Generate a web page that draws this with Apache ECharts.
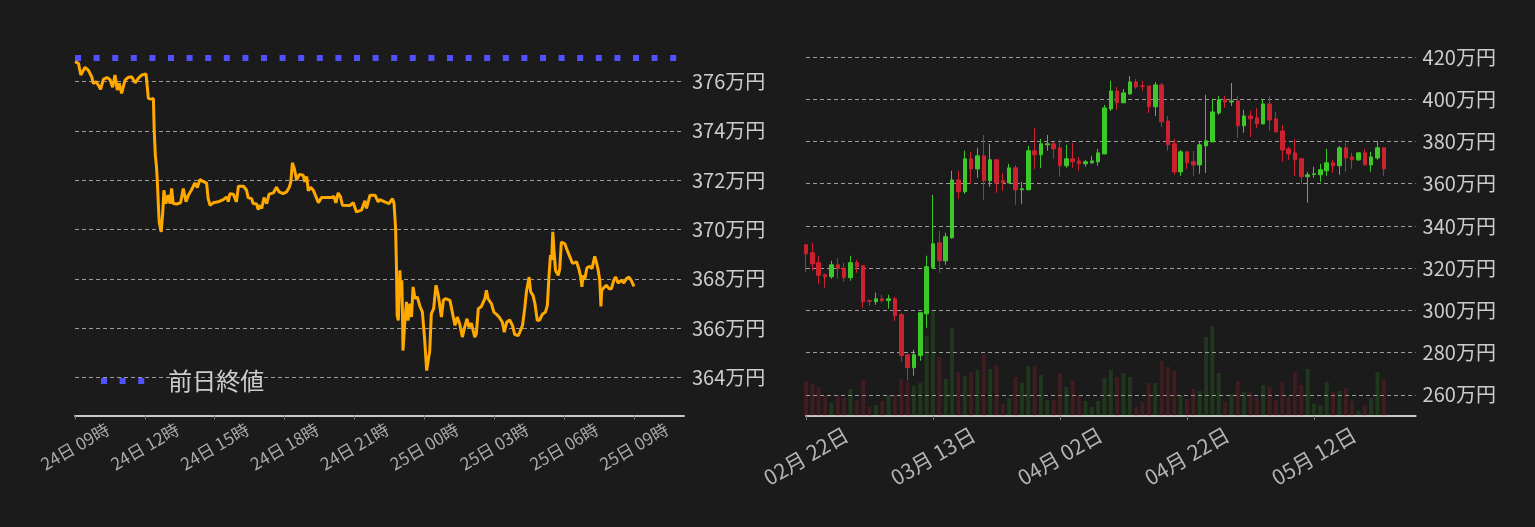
<!DOCTYPE html>
<html><head><meta charset="utf-8">
<script src="https://cdn.jsdelivr.net/npm/echarts@6/dist/echarts.min.js"></script>
<style>html,body{margin:0;padding:0;background:#1b1b1b;}#c{width:1535px;height:527px;}</style>
</head><body><div id="c"></div>
<script>
const FONT = '"Noto Sans CJK JP", "Noto Sans", sans-serif';

// ---- Left: intraday (minutes after 24日 09:00) ----
const prevClose = 376.95;
const lineMinutes = [0,9,15,20,26,34,43,47,54,60,66,73,82,90,97,103,109,114,120,129,137,146,155,163,172,183,186,189,195,202,204,207,210,212,215,217,222,226,229,234,240,245,249,253,262,272,279,286,292,300,309,315,322,331,339,343,348,356,369,382,391,395,399,408,412,416,421,434,442,446,455,459,468,472,476,481,487,494,500,511,519,526,536,545,552,556,560,565,571,578,588,592,597,601,607,614,621,627,635,648,661,667,672,678,684,689,708,717,725,738,747,751,760,773,781,785,798,809,818,822,826,828,830,833,837,840,842,844,845,850,854,858,863,867,871,876,882,888,895,901,906,910,914,918,924,930,936,940,944,949,955,966,973,979,985,991,998,1004,1010,1015,1021,1030,1034,1039,1047,1056,1060,1064,1073,1079,1086,1094,1101,1106,1112,1120,1127,1133,1142,1146,1153,1159,1163,1170,1174,1180,1185,1191,1197,1204,1212,1217,1221,1225,1228,1231,1234,1238,1245,1249,1253,1262,1268,1275,1282,1292,1298,1303,1306,1309,1313,1319,1326,1332,1339,1343,1348,1352,1355,1357,1362,1369,1376,1382,1388,1393,1399,1408,1414,1421,1427,1433,1440];
const lineValues = [376.80,376.73,376.26,376.24,376.57,376.46,376.19,375.92,375.99,375.85,375.68,376.08,376.16,376.08,375.76,376.26,375.65,375.92,375.51,376.05,376.16,376.19,375.94,376.12,376.26,376.30,376.26,375.31,375.28,375.31,374.02,373.01,372.53,372.00,370.91,370.30,369.90,370.65,371.59,371.05,371.39,371.05,371.66,371.05,371.03,371.08,371.66,371.12,371.39,371.60,371.89,371.70,372.02,371.93,371.89,371.25,370.98,371.08,371.12,371.21,371.32,371.12,371.45,371.43,371.48,371.12,371.75,371.75,371.59,371.29,371.25,371.05,371.03,370.80,370.98,370.85,371.29,371.05,371.43,371.48,371.71,371.52,371.45,371.52,371.71,371.93,372.70,372.47,372.00,372.23,372.20,371.93,372.14,371.57,371.71,371.59,371.32,371.08,371.29,371.29,371.29,371.34,371.08,371.48,371.32,370.98,370.97,371.08,370.71,370.78,371.16,370.85,371.39,371.39,371.12,371.21,371.12,371.05,371.25,371.05,370.03,368.61,366.52,366.31,368.34,367.26,367.94,366.31,365.09,366.31,367.06,366.31,366.99,366.45,367.67,367.20,367.26,366.92,366.65,365.50,364.28,364.21,365.09,366.58,366.79,367.74,367.33,367.40,366.45,367.13,367.20,367.13,366.58,366.11,366.45,366.18,365.64,366.04,366.38,366.04,366.20,365.64,365.77,366.79,366.88,367.20,367.53,367.20,366.99,366.65,366.56,366.42,366.24,365.84,366.24,366.33,366.11,365.74,365.70,365.84,366.11,366.85,367.47,368.07,367.47,367.33,366.99,366.31,366.33,366.56,366.65,366.92,368.07,368.96,368.76,369.90,369.16,368.34,368.14,368.41,369.49,369.42,369.16,368.89,368.62,368.69,368.41,368.07,367.67,368.14,367.96,368.45,368.51,368.41,368.91,368.69,368.34,367.94,366.88,367.53,367.63,367.74,367.60,367.60,367.94,368.07,367.83,367.94,367.83,368.01,368.07,367.94,367.69];
const intradayTickMinutes = [0,180,360,540,720,900,1080,1260,1440];
const intradayTickLabels = ['24日 09時','24日 12時','24日 15時','24日 18時','24日 21時','25日 00時','25日 03時','25日 06時','25日 09時'];
const intradayYTicks = [364,366,368,370,372,374,376];
const legendName = '前日終値';

// ---- Right: daily candles ----
const dailyCategories = ['02/22','02/23','02/24','02/25','02/26','02/27','02/28','02/29',
'03/01','03/02','03/03','03/04','03/05','03/06','03/07','03/08','03/09','03/10','03/11','03/12','03/13','03/14','03/15','03/16','03/17','03/18','03/19','03/20','03/21','03/22','03/23','03/24','03/25','03/26','03/27','03/28','03/29','03/30','03/31',
'04/01','04/02','04/03','04/04','04/05','04/06','04/07','04/08','04/09','04/10','04/11','04/12','04/13','04/14','04/15','04/16','04/17','04/18','04/19','04/20','04/21','04/22','04/23','04/24','04/25','04/26','04/27','04/28','04/29','04/30',
'05/01','05/02','05/03','05/04','05/05','05/06','05/07','05/08','05/09','05/10','05/11','05/12','05/13','05/14','05/15','05/16','05/17','05/18','05/19','05/20','05/21','05/22','05/23','05/24','05/25','05/26','05/27','05/28'];
const dailyOpen = [331.1,327.3,322.6,316.9,315.9,321.6,320.0,315.5,322.6,321.2,304.7,304.1,305.5,304.6,305.5,298.0,279.0,272.9,278.6,298.4,320.2,332.0,323.5,334.4,361.8,356.2,371.8,367.0,373.2,361.4,371.3,361.4,360.4,367.5,357.1,357.1,375.6,373.7,378.4,378.9,377.0,368.5,371.8,370.8,369.4,369.9,370.4,374.1,395.4,403.9,398.3,402.5,408.2,406.3,406.3,396.4,406.8,389.7,378.9,365.6,375.1,370.4,368.9,377.9,379.8,393.5,399.7,398.7,399.2,387.4,392.1,391.2,388.3,397.8,390.7,385.0,376.5,374.6,371.8,363.3,364.4,364.2,366.1,369.9,368.5,377.0,372.7,371.3,374.6,368.9,372.2,377.0];
const dailyClose = [326.8,322.1,316.6,315.9,321.6,319.9,315.5,322.6,320.7,304.1,304.3,305.5,304.6,305.5,297.5,278.6,272.9,279.0,298.9,320.7,331.6,323.5,334.9,361.8,356.2,371.8,367.0,373.2,361.4,371.3,360.4,360.4,367.5,357.1,357.6,375.6,373.7,378.9,378.9,376.5,368.5,371.8,370.4,369.4,370.4,370.8,374.6,395.9,403.9,398.3,403.0,408.2,405.8,406.0,396.4,406.8,389.3,378.4,365.6,375.1,369.9,368.9,378.4,380.3,394.0,399.7,398.7,399.2,387.4,392.1,390.7,388.3,397.8,390.2,384.5,376.0,374.1,371.3,363.3,364.2,364.7,366.6,369.9,368.5,377.0,372.2,371.3,374.6,368.9,372.7,377.0,367.0];
const dailyLow = [318.3,318.9,312.6,310.7,315.0,315.0,313.6,314.1,317.8,301.3,302.2,302.7,303.6,300.8,295.1,275.7,266.7,269.1,276.2,291.8,319.7,317.8,321.6,333.9,352.8,355.2,359.9,362.8,352.4,358.5,355.7,356.6,360.4,350.0,350.5,357.1,367.0,367.5,375.6,371.8,363.3,367.5,367.5,366.1,368.0,369.4,368.5,374.1,394.5,395.0,398.3,402.1,404.9,403.9,393.5,392.1,386.9,375.6,364.2,363.7,367.0,363.7,364.7,365.1,379.8,392.6,395.9,396.8,381.7,384.1,382.2,386.4,388.3,385.0,384.5,370.4,371.3,363.7,359.9,351.0,362.8,360.9,363.7,365.1,364.2,365.6,367.0,370.8,368.9,365.6,371.3,363.7];
const dailyHigh = [331.1,332.0,325.9,317.4,323.5,324.9,322.6,325.9,324.0,321.2,305.1,308.4,307.4,307.4,306.5,298.9,279.0,281.4,298.9,325.9,354.7,337.7,336.8,366.1,366.1,375.6,375.1,377.0,383.1,378.9,371.8,365.1,369.4,368.9,360.9,377.9,386.4,381.2,383.1,379.8,380.8,378.4,379.3,372.7,371.3,373.2,376.5,397.3,408.7,405.8,404.9,411.0,409.6,408.7,406.3,408.2,407.7,392.1,381.2,376.0,375.1,375.6,379.8,402.1,400.2,401.6,401.6,407.7,401.6,395.0,394.5,395.9,399.7,401.6,394.0,387.9,377.4,381.2,371.8,365.6,368.0,369.4,376.5,371.3,377.9,379.3,374.6,374.6,376.5,375.1,380.3,377.0];
const dailyVolume = [35,32,29,21,13,21,18,27,16,36,9,11,15,21,21,37,34,30,33,80,105,59,37,88,44,40,44,46,62,47,51,12,18,39,33,50,50,41,16,16,43,29,35,21,15,9,15,38,46,39,43,39,9,14,33,33,55,49,45,21,17,27,25,79,90,43,14,22,35,24,24,19,31,29,16,34,19,44,31,47,12,11,34,24,25,28,15,5,11,18,44,37];
const dailyYTicks = [260,280,300,320,340,360,380,400,420];

const UP = '#3ec92a', DOWN = '#cc2230';
const UP_VOL = 'rgba(62,201,42,0.16)', DOWN_VOL = 'rgba(204,34,48,0.2)';
const GRIDLINE = {show:true, lineStyle:{color:'rgba(200,200,200,0.75)', width:1, type:[4,3]}};
const AXLINE = {show:true, lineStyle:{color:'#c8c8c8', width:2}};

const candleData = dailyOpen.map((o,i)=>[o, dailyClose[i], dailyLow[i], dailyHigh[i]]);
const volData = dailyVolume.map((v,i)=>({value:v, itemStyle:{color: dailyClose[i]>=dailyOpen[i]?UP_VOL:DOWN_VOL}}));

const chart = echarts.init(document.getElementById('c'), null, {renderer:'canvas'});
chart.setOption({
  backgroundColor:'#1b1b1b',
  animation:false,
  textStyle:{fontFamily:FONT},
  grid:[
    {left:75, top:55, width:609, height:360.5},
    {left:806, top:57, width:609.6, height:359}
  ],
  legend:{
    data:[{name:legendName, icon:'path://M0,0h6v6h-6z M18.6,0h6v6h-6z M37.2,0h6v6h-6z'}],
    left:96, top:364, itemWidth:43.2, itemHeight:6, selectedMode:false,
    textStyle:{color:'#cccccc', fontSize:24, fontFamily:FONT, padding:[0,0,0,19]}
  },
  xAxis:[
    {type:'value', gridIndex:0, min:0, max:1569,
     axisLine:AXLINE,
     axisTick:{show:true, customValues:intradayTickMinutes, length:4, lineStyle:{color:'#777'}},
     axisLabel:{customValues:intradayTickMinutes, formatter:v=>intradayTickLabels[intradayTickMinutes.indexOf(v)],
       rotate:30, align:'center', verticalAlign:'middle', margin:31, color:'#aaaaaa', fontSize:17, fontFamily:FONT},
     splitLine:{show:false}},
    {type:'category', gridIndex:1, data:dailyCategories, boundaryGap:false,
     axisLine:AXLINE,
     axisTick:{show:true, interval:19, length:4, lineStyle:{color:'#777'}},
     axisLabel:{interval:19, formatter:v=>v.replace(/(\d+)\/(\d+)/,'$1月 $2日'),
       rotate:30, align:'center', verticalAlign:'middle', margin:40, color:'#b4b4b4', fontSize:21, fontFamily:FONT},
     splitLine:{show:false}}
  ],
  yAxis:[
    {type:'value', gridIndex:0, position:'right', min:362.46, max:377.07,
     axisLine:{show:false}, axisTick:{show:false, customValues:intradayYTicks},
     axisLabel:{customValues:intradayYTicks, formatter:v=>v+'万円', color:'#cccccc', fontSize:20, margin:8, fontFamily:FONT},
     splitLine:GRIDLINE},
    {type:'value', gridIndex:1, position:'right', min:250, max:420,
     axisLine:{show:false}, axisTick:{show:false, customValues:dailyYTicks},
     axisLabel:{customValues:dailyYTicks, formatter:v=>v+'万円', color:'#cccccc', fontSize:20, margin:7, fontFamily:FONT},
     splitLine:GRIDLINE},
    {type:'value', gridIndex:1, min:0, max:359, show:false, splitLine:{show:false}}
  ],
  series:[
    {name:'価格', type:'line', xAxisIndex:0, yAxisIndex:0, symbol:'none', z:3,
     data:lineMinutes.map((m,i)=>[m, lineValues[i]]),
     color:'#ffa800', lineStyle:{color:'#ffa800', width:3}},
    {name:legendName, type:'line', xAxisIndex:0, yAxisIndex:0, symbol:'none', z:2,
     data:[[0, prevClose],[1569, prevClose]],
     color:'#5050ff', itemStyle:{color:'#5050ff'},
     lineStyle:{color:'#5050ff', width:6, type:[6,12.6], cap:'butt'}},
    {name:'出来高', type:'bar', xAxisIndex:1, yAxisIndex:2, barWidth:4, z:1, data:volData},
    {name:'日足', type:'candlestick', xAxisIndex:1, yAxisIndex:1, barWidth:4, z:3,
     data:candleData,
     itemStyle:{color:UP, color0:DOWN, borderColor:UP, borderColor0:DOWN, borderWidth:1}}
  ]
});
</script></body></html>
